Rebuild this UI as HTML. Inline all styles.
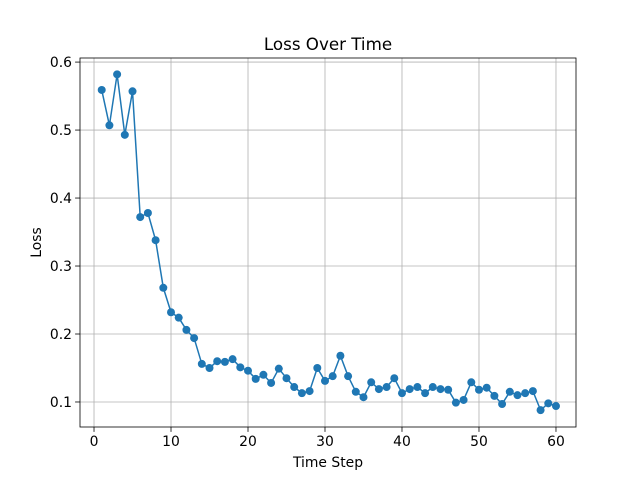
<!DOCTYPE html>
<html><head><meta charset="utf-8"><style>
html,body{margin:0;padding:0;background:#fff;}
svg{display:block;font-family:"DejaVu Sans","Liberation Sans",sans-serif;}
</style></head><body>
<svg id="chart" width="640" height="480"></svg>
<script>
const steps = [];
for (let i = 1; i <= 60; i++) steps.push(i);
const loss = [0.559,0.507,0.582,0.493,0.557,0.372,0.378,0.338,0.268,0.232,
0.224,0.206,0.194,0.156,0.150,0.160,0.159,0.163,0.151,0.146,
0.134,0.140,0.128,0.149,0.135,0.122,0.113,0.116,0.150,0.131,
0.138,0.168,0.138,0.115,0.107,0.129,0.119,0.122,0.135,0.113,
0.119,0.122,0.113,0.122,0.119,0.118,0.099,0.103,0.129,0.118,
0.121,0.109,0.097,0.115,0.110,0.113,0.116,0.088,0.098,0.094];
const xTicks = [0,10,20,30,40,50,60];
const yTicks = [0.1,0.2,0.3,0.4,0.5,0.6];
const yTickLabels = ["0.1","0.2","0.3","0.4","0.5","0.6"];

const L=80,R=576,T=58,B=427;
const xMin=-1.82,xMax=62.6,yMin=0.0632,yMax=0.606;
const sx=v=>L+(v-xMin)/(xMax-xMin)*(R-L);
const sy=v=>B-(v-yMin)/(yMax-yMin)*(B-T);
const NS="http://www.w3.org/2000/svg";
const svg=document.getElementById('chart');
function mk(tag,attrs,parent){const e=document.createElementNS(NS,tag);for(const k in attrs)e.setAttribute(k,attrs[k]);(parent||svg).appendChild(e);return e;}

const grid=mk('g',{});


xTicks.forEach(t=>{mk('line',{x1:sx(t),x2:sx(t),y1:T,y2:B,stroke:'#b0b0b0','stroke-width':0.8},grid);});
yTicks.forEach(t=>{mk('line',{x1:L,x2:R,y1:sy(t),y2:sy(t),stroke:'#b0b0b0','stroke-width':0.8},grid);});

const xAxis=mk('g',{});


xTicks.forEach(t=>{
  mk('line',{x1:sx(t),x2:sx(t),y1:B,y2:B+4.9,stroke:'#000','stroke-width':0.8},xAxis);
  const tx=mk('text',{x:sx(t),y:B+19,'text-anchor':'middle','font-size':13.9},xAxis);tx.textContent=t;
});
const yAxis=mk('g',{});


yTicks.forEach((t,i)=>{
  mk('line',{x1:L-4.9,x2:L,y1:sy(t),y2:sy(t),stroke:'#000','stroke-width':0.8},yAxis);
  const tx=mk('text',{x:L-8,y:sy(t)+5,'text-anchor':'end','font-size':13.9},yAxis);tx.textContent=yTickLabels[i];
});

const line=mk('polyline',{points:steps.map((s,i)=>sx(s)+','+sy(loss[i])).join(' '),fill:'none',stroke:'#1f77b4','stroke-width':1.5});


steps.forEach((s,i)=>{
  const c=mk('circle',{cx:sx(s),cy:sy(loss[i]),r:4,fill:'#1f77b4'});
  
  
});

const frame=mk('rect',{x:L,y:T,width:R-L,height:B-T,fill:'none',stroke:'#000','stroke-width':0.8});



const title=mk('text',{x:(L+R)/2,y:T-8,'text-anchor':'middle','font-size':16.7});
title.textContent='Loss Over Time';


const xt=mk('text',{x:(L+R)/2,y:467,'text-anchor':'middle','font-size':13.9});
xt.textContent='Time Step';


const yt=mk('text',{x:0,y:0,'text-anchor':'middle','font-size':13.9,transform:'translate(41,'+((T+B)/2)+') rotate(-90)'});
yt.textContent='Loss';


</script>
</body></html>
